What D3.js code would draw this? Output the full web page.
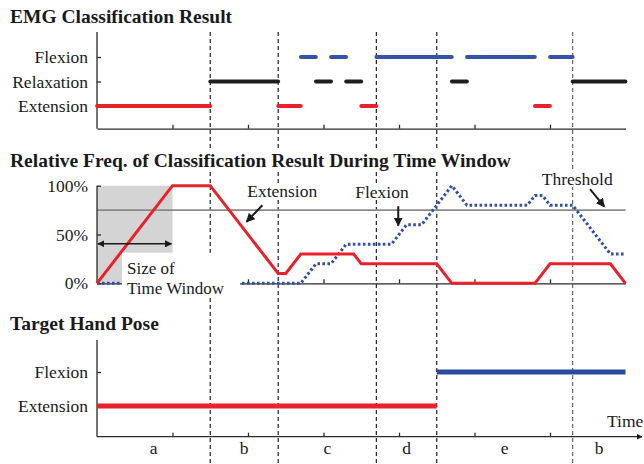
<!DOCTYPE html>
<html>
<head>
<meta charset="utf-8">
<script src="https://cdn.jsdelivr.net/npm/d3@7"></script>
<style>
body { margin: 0; background: #fff; }
svg { display: block; }
text { font-family: "Liberation Serif", "Times New Roman", serif; fill: #1a1a1a; }
</style>
</head>
<body>
<svg id="chart"></svg>
<script>
// time in tenths of a tick, window = 10
const timeTicks = [10, 20, 30, 40, 50, 60];
const boundaries = [15, 24, 37, 45, 63];
const phaseLabels = ["a", "b", "c", "d", "e", "b"];

const classes = ["Extension", "Relaxation", "Flexion"];
const emgResult = [
    ["Extension", 0, 15], ["Relaxation", 15, 24], ["Extension", 24, 27],
    ["Flexion", 27, 29], ["Relaxation", 29, 31], ["Flexion", 31, 33],
    ["Relaxation", 33, 35], ["Extension", 35, 37], ["Flexion", 37, 47],
    ["Relaxation", 47, 49], ["Flexion", 49, 58], ["Extension", 58, 60],
    ["Flexion", 60, 63], ["Relaxation", 63, 70]
];

const freqTicks = [0, 50, 100];
const extensionFreq = [[0, 0], [10, 100], [15, 100], [24, 10], [25, 10], [27, 30], [34, 30], [35, 20],
    [45, 20], [47, 0], [58, 0], [60, 20], [68, 20], [70, 0]];
const flexionFreq = [[0, 0], [27, 0], [29, 20], [31, 20], [33, 40], [39, 40], [41, 60], [43, 60],
    [47, 100], [49, 80], [57, 80], [58, 90], [59, 90], [60, 80], [63, 80], [68, 30], [70, 30]];
const threshold = 75;
const windowSize = 10;

const poses = ["Extension", "Flexion"];
const targetPose = [["Extension", 0, 45], ["Flexion", 45, 70]];

const colors = { Extension: "#e8212a", Relaxation: "#1e1e1e", Flexion: "#3553a6" };
const fsLabel = "17.5px";
const fsTitle = "19.5px";

const svg = d3.select("#chart").attr("width", 644).attr("height", 464);

const x = d3.scaleLinear().domain([0, 70]).range([97, 625.5]);
const yTop = d3.scalePoint().domain(classes).range([130.5, 32.5]).padding(1);
const yMid = d3.scaleLinear().domain([0, 100]).range([283.3, 185.7]);
const yBot = d3.scalePoint().domain(poses).range([440, 338]).padding(1);

const defs = svg.append("defs");
defs.append("marker")
    .attr("id", "head")
    .attr("viewBox", "0 0 10 10")
    .attr("refX", 9).attr("refY", 5)
    .attr("markerWidth", 4.5).attr("markerHeight", 4.5)
    .attr("orient", "auto-start-reverse")
    .append("path")
    .attr("d", "M0,0 L10,5 L0,10 Z")
    .attr("fill", "#1a1a1a");

// phase boundaries (dashed) go under everything
svg.append("g").selectAll("line")
    .data(boundaries)
    .join("line")
    .attr("x1", d => x(d)).attr("x2", d => x(d))
    .attr("y1", 32).attr("y2", 464)
    .attr("stroke", (d, i) => i === boundaries.length - 1 ? "#6a6a6a" : "#222")
    .attr("stroke-width", 1.2)
    .attr("stroke-dasharray", "4,3");

function title(txt, yb) {
    const g = svg.append("g");
    const t = g.append("text")
        .attr("x", 10).attr("y", yb)
        .style("font-size", fsTitle)
        .style("font-weight", "bold")
        .text(txt);
    const b = t.node().getBBox();
    g.insert("rect", "text")
        .attr("x", b.x - 2).attr("y", b.y)
        .attr("width", b.width + 4).attr("height", b.height)
        .attr("fill", "#fff");
}

function boxedText(g, txt, tx, ty) {
    const t = g.append("text")
        .attr("x", tx).attr("y", ty)
        .style("font-size", fsLabel)
        .text(txt);
    const b = t.node().getBBox();
    g.insert("rect", "text")
        .attr("x", b.x - 1).attr("y", b.y + 2)
        .attr("width", b.width + 2).attr("height", b.height - 4)
        .attr("fill", "#fff");
}

function xAxis(yPos, arrow) {
    const g = svg.append("g")
        .attr("transform", `translate(0,${yPos})`)
        .call(d3.axisBottom(x).tickValues(timeTicks).tickSize(-4).tickSizeOuter(0).tickFormat(""));
    g.selectAll("line, path").attr("stroke", "#2a2a2a").attr("stroke-width", 1.3);
    if (arrow) {
        g.select(".domain").remove();
        g.append("line")
            .attr("x1", x(0)).attr("x2", 642)
            .attr("stroke", "#2a2a2a").attr("stroke-width", 1.3)
            .attr("marker-end", "url(#head)");
    }
    return g;
}

function yAxis(axis, y0, y1) {
    const g = svg.append("g")
        .attr("transform", `translate(${x(0)},0)`)
        .call(axis.tickSize(-4).tickSizeOuter(0).tickPadding(9));
    g.select(".domain").remove();
    g.append("line").attr("y1", y0).attr("y2", y1)
        .attr("stroke", "#2a2a2a").attr("stroke-width", 1.3);
    g.selectAll(".tick line").attr("stroke", "#2a2a2a").attr("stroke-width", 1.3);
    g.selectAll("text")
        .attr("fill", "#1a1a1a")
        .style("font-family", '"Liberation Serif", serif')
        .style("font-size", fsLabel);
    return g;
}

// ---- panel 1: EMG classification result
title("EMG Classification Result", 22.5);
xAxis(128.7);
yAxis(d3.axisLeft(yTop), 128.7, 32);

svg.append("g").selectAll("line")
    .data(emgResult)
    .join("line")
    .attr("x1", d => x(d[1])).attr("x2", d => x(d[2]))
    .attr("y1", d => yTop(d[0])).attr("y2", d => yTop(d[0]))
    .attr("stroke", d => colors[d[0]])
    .attr("stroke-width", 3.8)
    .attr("stroke-linecap", "round");

// ---- panel 2: relative frequency during time window
title("Relative Freq. of Classification Result During Time Window", 166.5);

svg.append("rect")
    .attr("x", x(0)).attr("y", yMid(100))
    .attr("width", x(windowSize) - x(0))
    .attr("height", yMid(0) - yMid(100))
    .attr("fill", "#d4d4d4");

svg.append("line")
    .attr("x1", x(0)).attr("x2", x(70))
    .attr("y1", yMid(threshold)).attr("y2", yMid(threshold))
    .attr("stroke", "#8a8a8a").attr("stroke-width", 1.6);

xAxis(yMid(0));
yAxis(d3.axisLeft(yMid).tickValues(freqTicks).tickFormat(d => d + "%"), yMid(0), yMid(100));

const line = d3.line().x(d => x(d[0])).y(d => yMid(d[1]));

svg.append("path")
    .datum(flexionFreq)
    .attr("d", line)
    .attr("fill", "none")
    .attr("stroke", "#3050a8")
    .attr("stroke-width", 3)
    .attr("stroke-dasharray", "2.6,2.4");

svg.append("path")
    .datum(extensionFreq)
    .attr("d", line)
    .attr("fill", "none")
    .attr("stroke", colors.Extension)
    .attr("stroke-width", 3);

// window size label
const win = svg.append("g");
win.append("rect")
    .attr("x", 122).attr("y", yMid(31.3))
    .attr("width", 118).attr("height", 45)
    .attr("fill", "#fff");
win.append("text").attr("x", 127).attr("y", 273.5).style("font-size", "17px").text("Size of");
win.append("text").attr("x", 127).attr("y", 293.5).style("font-size", "17px").text("Time Window");
win.append("line")
    .attr("x1", x(0) + 1).attr("x2", x(windowSize) - 1)
    .attr("y1", yMid(40.5)).attr("y2", yMid(40.5))
    .attr("stroke", "#1a1a1a").attr("stroke-width", 1.6)
    .attr("marker-start", "url(#head)")
    .attr("marker-end", "url(#head)");

// annotations: [label, text t, text v, tail t, tail v, tip t, tip v]
const notes = [
    ["Extension", 19.9, 88.4, 21.9, 80, 19.8, 63],
    ["Flexion", 34.2, 87.4, 39.9, 79, 39.9, 59],
    ["Threshold", 58.9, 100.7, 65.3, 96.5, 67.2, 78.5]
];
const ann = svg.append("g");
notes.forEach(n => {
    boxedText(ann, n[0], x(n[1]), yMid(n[2]));
    ann.append("line")
        .attr("x1", x(n[3])).attr("y1", yMid(n[4]))
        .attr("x2", x(n[5])).attr("y2", yMid(n[6]))
        .attr("stroke", "#1a1a1a").attr("stroke-width", 2)
        .attr("marker-end", "url(#head)");
});

// ---- panel 3: target hand pose
title("Target Hand Pose", 329.5);
xAxis(436.7, true);
yAxis(d3.axisLeft(yBot), 436.7, 340);

svg.append("g").selectAll("line")
    .data(targetPose)
    .join("line")
    .attr("x1", d => x(d[1])).attr("x2", d => x(d[2]))
    .attr("y1", d => yBot(d[0])).attr("y2", d => yBot(d[0]))
    .attr("stroke", d => d[0] === "Flexion" ? "#2b4a9c" : colors.Extension)
    .attr("stroke-width", 5);

svg.append("text")
    .attr("x", 607).attr("y", 426.5)
    .style("font-size", fsLabel)
    .text("Time");

const edges = [0, ...boundaries, 70];
svg.append("g").selectAll("text")
    .data(phaseLabels)
    .join("text")
    .attr("x", (d, i) => x((edges[i] + edges[i + 1]) / 2))
    .attr("y", 453.5)
    .attr("text-anchor", "middle")
    .style("font-size", fsLabel)
    .text(d => d);
</script>
</body>
</html>
